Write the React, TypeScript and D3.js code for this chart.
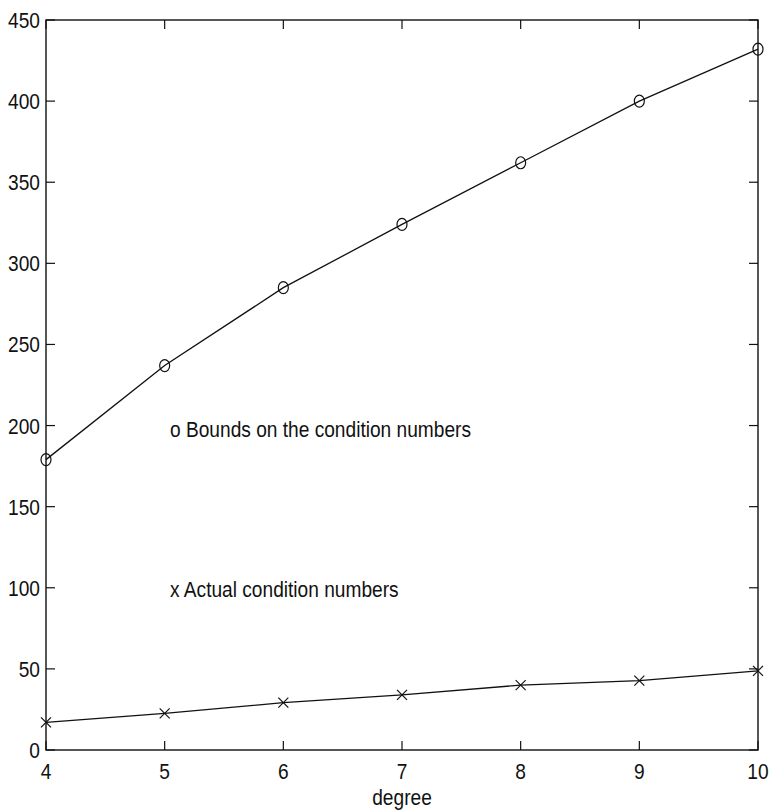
import React from "react";
import * as d3 from "d3";

const degrees = [4, 5, 6, 7, 8, 9, 10];
const boundValues = [179, 237, 285, 324, 362, 400, 432];
const actualValues = [17, 22.6, 29.2, 34, 40, 42.8, 48.8];
const xTicks = [4, 5, 6, 7, 8, 9, 10];
const yTicks = [0, 50, 100, 150, 200, 250, 300, 350, 400, 450];
const boundLabel = "o Bounds on the condition numbers";
const actualLabel = "x Actual condition numbers";
const xLabel = "degree";

const W = 770;
const H = 810;
const L = 46;
const R = 758;
const T = 20;
const B = 750;
const TICK = 9;
const FONT = "'Liberation Sans', Arial, Helvetica, sans-serif";
const FS = 22;
const SX = 0.87;

function Label(props: { x: number; y: number; anchor?: string; children: React.ReactNode }) {
  return (
    <text
      transform={`translate(${props.x},${props.y}) scale(${SX},1)`}
      textAnchor={props.anchor || "start"}
      fontSize={FS}
      fill="#111"
    >
      {props.children}
    </text>
  );
}

export default function App() {
  const x = d3.scaleLinear().domain([4, 10]).range([L, R]);
  const y = d3.scaleLinear().domain([0, 450]).range([B, T]);
  const line = d3
    .line<number>()
    .x((_, i) => x(degrees[i]))
    .y((d) => y(d));

  return (
    <svg
      width={W}
      height={H}
      style={{ position: "absolute", left: 0, top: 0, background: "#fff" }}
      fontFamily={FONT}
    >
      <rect x={0} y={0} width={W} height={H} fill="#fff" />
      <rect x={L} y={T} width={R - L} height={B - T} fill="none" stroke="#111" strokeWidth={1.4} />
      {xTicks.map((t) => (
        <g key={"xt" + t}>
          <line x1={x(t)} x2={x(t)} y1={B} y2={B - TICK} stroke="#111" strokeWidth={1.2} />
          <line x1={x(t)} x2={x(t)} y1={T} y2={T + TICK} stroke="#111" strokeWidth={1.2} />
          <Label x={x(t)} y={B + 29} anchor="middle">
            {t}
          </Label>
        </g>
      ))}
      {yTicks.map((t) => (
        <g key={"yt" + t}>
          <line x1={L} x2={L + TICK} y1={y(t)} y2={y(t)} stroke="#111" strokeWidth={1.2} />
          <line x1={R} x2={R - TICK} y1={y(t)} y2={y(t)} stroke="#111" strokeWidth={1.2} />
          <Label x={L - 6} y={y(t) + 8} anchor="end">
            {t}
          </Label>
        </g>
      ))}
      <path d={line(boundValues) || ""} fill="none" stroke="#111" strokeWidth={1.3} />
      <path d={line(actualValues) || ""} fill="none" stroke="#111" strokeWidth={1.3} />
      {boundValues.map((v, i) => (
        <ellipse
          key={"c" + i}
          cx={x(degrees[i])}
          cy={y(v)}
          rx={5}
          ry={6}
          fill="none"
          stroke="#111"
          strokeWidth={1.2}
        />
      ))}
      {actualValues.map((v, i) => {
        const cx = x(degrees[i]);
        const cy = y(v);
        const s = 5;
        return (
          <g key={"x" + i} stroke="#111" strokeWidth={1.2}>
            <line x1={cx - s} x2={cx + s} y1={cy - s} y2={cy + s} />
            <line x1={cx - s} x2={cx + s} y1={cy + s} y2={cy - s} />
          </g>
        );
      })}
      <Label x={170} y={437}>
        {boundLabel}
      </Label>
      <Label x={170} y={597}>
        {actualLabel}
      </Label>
      <Label x={(L + R) / 2} y={805} anchor="middle">
        {xLabel}
      </Label>
    </svg>
  );
}
